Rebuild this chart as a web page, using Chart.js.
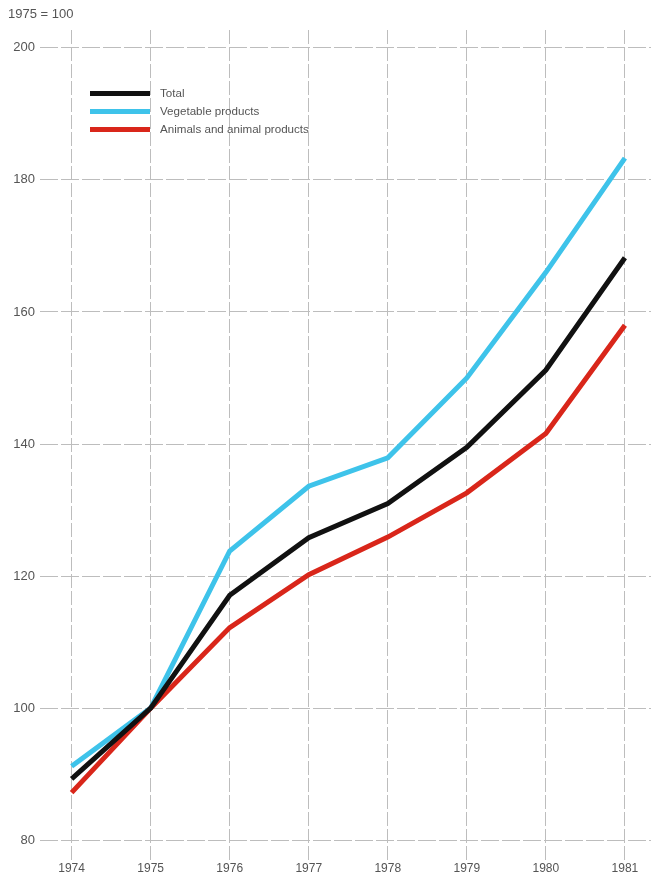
<!DOCTYPE html>
<html lang="en">

<head>
    <meta charset="UTF-8">
    <title>Price index 1975 = 100</title>
    <script src="https://cdn.jsdelivr.net/npm/chart.js"></script>
    <style>
        body { margin: 0; background: #fff; font-family: "Liberation Sans", Arial, sans-serif; }
        .wrap { position: relative; width: 651px; height: 875px; }
        .base { position: absolute; left: 8px; top: 6px; font-size: 13px; color: #555; }
        .legend { position: absolute; left: 90px; top: 85px; font-size: 11.6px; color: #555; }
        .legend div { height: 18px; line-height: 15px; }
        .legend span { display: inline-block; width: 60px; height: 5px; margin-right: 10px; vertical-align: middle; }
    </style>
</head>

<body>
    <div class="wrap">
        <canvas id="chart" width="651" height="875"></canvas>
        <div class="base">1975 = 100</div>
        <div class="legend">
            <div><span style="background:#111"></span>Total</div>
            <div><span style="background:#3ec3ea"></span>Vegetable products</div>
            <div><span style="background:#d9261a"></span>Animals and animal products</div>
        </div>
    </div>

    <script>
        // data
        const years = [1974, 1975, 1976, 1977, 1978, 1979, 1980, 1981]
        const yTicks = [80, 100, 120, 140, 160, 180, 200]
        const total = [89.3, 100, 117.1, 125.8, 131.0, 139.5, 151.2, 168.2]
        const vegetable = [91.2, 100, 123.8, 133.6, 137.9, 150.0, 166.0, 183.3]
        const animal = [87.2, 100, 112.2, 120.2, 125.9, 132.6, 141.6, 158.0]

        const pts = arr => arr.map((v, i) => ({ x: years[i], y: v }))

        const gridStyle = {
            color: '#bdbdbd',
            lineWidth: 1,
            drawTicks: false
        }

        new Chart(document.getElementById('chart'), {
            type: 'line',
            data: {
                datasets: [{
                    label: 'Total',
                    data: pts(total),
                    borderColor: '#111',
                    order: 0
                }, {
                    label: 'Vegetable products',
                    data: pts(vegetable),
                    borderColor: '#3ec3ea',
                    order: 2
                }, {
                    label: 'Animals and animal products',
                    data: pts(animal),
                    borderColor: '#d9261a',
                    order: 1
                }]
            },
            options: {
                responsive: false,
                animation: false,
                layout: { padding: { top: 30, right: 0, left: 0, bottom: 0 } },
                elements: {
                    line: { borderWidth: 5, tension: 0, borderCapStyle: 'butt' },
                    point: { radius: 0 }
                },
                plugins: {
                    legend: { display: false },
                    tooltip: { enabled: false }
                },
                scales: {
                    x: {
                        type: 'linear',
                        min: 1973.6,
                        max: 1981.33,
                        afterBuildTicks: axis => { axis.ticks = years.map(v => ({ value: v })) },
                        afterFit: axis => { axis.height = 15 },
                        grid: gridStyle,
                        border: { display: false, dash: [14, 3] },
                        ticks: {
                            padding: 1,
                            color: '#555',
                            font: { size: 12, family: 'Liberation Sans' },
                            callback: v => String(v)
                        }
                    },
                    y: {
                        min: 77,
                        max: 202.7,
                        afterBuildTicks: axis => { axis.ticks = yTicks.map(v => ({ value: v })) },
                        afterFit: axis => { axis.width = 40 },
                        grid: gridStyle,
                        border: { display: false, dash: [18, 3] },
                        ticks: {
                            padding: 5,
                            color: '#555',
                            font: { size: 13, family: 'Liberation Sans' }
                        }
                    }
                }
            }
        })
    </script>
</body>

</html>
